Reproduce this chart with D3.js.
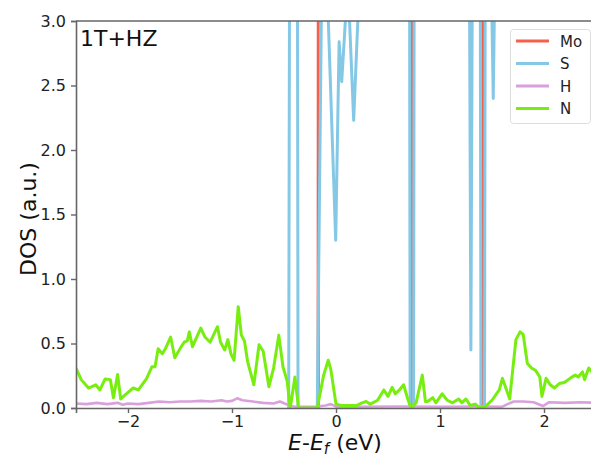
<!DOCTYPE html>
<html>
<head>
<meta charset="utf-8">
<script src="https://cdn.jsdelivr.net/npm/d3@7"></script>
<style>
  html, body { margin: 0; padding: 0; background: #fff; }
  svg { display: block; font-family: "DejaVu Sans", sans-serif; }
</style>
</head>
<body>
<svg id="chart" width="591" height="462"></svg>
<script>
// Projected density of states, 1T+HZ
const seriesNames = ["Mo", "S", "H", "N"];
const seriesColors = ["#f4604c", "#85c8e6", "#d9a0dc", "#78ee10"];

const xTicks = [-2, -1, 0, 1, 2];
const yTicks = [0.0, 0.5, 1.0, 1.5, 2.0, 2.5, 3.0];

// Mo: narrow peaks that run off the top of the window (null breaks the line)
const moE = [-0.176, -0.171, -0.166, null, 0.730, 0.735, 0.740, null, 1.405, 1.410, 1.415];
const moDos = [0, 10, 0, null, 0, 10, 0, null, 0, 10, 0];

// S: mostly above the window, only the dips reach into view
const sE = [-0.455, -0.44, -0.375, -0.365, -0.18, -0.14, -0.11, -0.08, -0.003, 0.030, 0.055, 0.105,
            0.12, 0.17, 0.22, 0.25, 0.703, 0.713, 0.746, 0.756, 1.28, 1.297, 1.314, 1.386, 1.394,
            1.428, 1.436, 1.49, 1.512, 1.53, 2.6];
const sDos = [0, 6, 6, 0, 0, 3.1, 4, 3.15, 1.30, 2.84, 2.53, 3.2,
              3.2, 2.23, 3.2, 5, 6, 0, 0, 6, 4, 0.45, 4, 4, 0,
              0, 4, 3.5, 2.40, 3.5, 6];

// H
const hE = [-2.5, -2.4, -2.3, -2.2, -2.1, -2.05, -2.0, -1.9, -1.8, -1.7, -1.6, -1.5, -1.4, -1.3,
            -1.2, -1.1, -1.05, -1.0, -0.95, -0.9, -0.8, -0.7, -0.6, -0.54, -0.45, -0.4, -0.3,
            -0.2, -0.1, -0.05, 0.0, 0.2, 0.6, 1.0, 1.4, 1.6, 1.65, 1.71, 1.8, 1.9, 1.99, 2.05,
            2.2, 2.35, 2.5];
const hDos = [0.035, 0.03, 0.04, 0.03, 0.04, 0.025, 0.035, 0.03, 0.04, 0.05, 0.045, 0.05, 0.05, 0.055,
              0.05, 0.06, 0.05, 0.055, 0.075, 0.06, 0.05, 0.04, 0.035, 0.05, 0.02, 0.01, 0.01,
              0.01, 0.02, 0.03, 0.01, 0.01, 0.012, 0.01, 0.012, 0.01, 0.03, 0.05, 0.05, 0.045, 0.015, 0.045,
              0.04, 0.045, 0.04];

// N
const nE = [-2.5, -2.45, -2.38, -2.31, -2.27, -2.22, -2.17, -2.14, -2.10, -2.07, -2.03, -1.95,
            -1.90, -1.82, -1.77, -1.74, -1.71, -1.67, -1.64, -1.59, -1.55, -1.50, -1.46, -1.43,
            -1.41, -1.38, -1.35, -1.30, -1.26, -1.21, -1.14, -1.11, -1.07, -1.04, -1.01, -0.98,
            -0.94, -0.91, -0.88, -0.85, -0.79, -0.74, -0.70, -0.645, -0.60, -0.55, -0.51, -0.47,
            -0.44, -0.395, -0.36, -0.18, -0.12, -0.075, -0.05, 0.0, 0.05, 0.2, 0.25, 0.29, 0.33,
            0.40, 0.46, 0.50, 0.54, 0.57, 0.61, 0.65, 0.69, 0.72, 0.77, 0.83, 0.86, 0.88, 0.93,
            0.96, 1.02, 1.07, 1.12, 1.18, 1.21, 1.25, 1.29, 1.34, 1.38, 1.44, 1.50, 1.57, 1.60,
            1.64, 1.67, 1.70, 1.73, 1.77, 1.80, 1.84, 1.88, 1.92, 1.96, 1.98, 2.02, 2.06, 2.10,
            2.15, 2.20, 2.25, 2.30, 2.33, 2.37, 2.39, 2.43, 2.47, 2.5];
const nDos = [0.31, 0.22, 0.155, 0.18, 0.14, 0.225, 0.22, 0.08, 0.26, 0.07, 0.10, 0.155,
              0.14, 0.23, 0.32, 0.32, 0.46, 0.42, 0.46, 0.55, 0.39, 0.46, 0.51, 0.52,
              0.59, 0.475, 0.53, 0.62, 0.55, 0.51, 0.63, 0.51, 0.45, 0.53, 0.42, 0.37,
              0.785, 0.565, 0.52, 0.36, 0.18, 0.49, 0.44, 0.165, 0.31, 0.565, 0.32, 0.21,
              0.0, 0.24, 0.0, 0.0, 0.25, 0.37, 0.30, 0.03, 0.02, 0.02, 0.04, 0.05, 0.03,
              0.06, 0.14, 0.09, 0.16, 0.11, 0.14, 0.18, 0.07, 0.0, 0.04, 0.255, 0.05, 0.05, 0.08,
              0.04, 0.11, 0.06, 0.04, 0.07, 0.04, 0.07, 0.02, 0.03, 0.0, 0.015, 0.06, 0.14, 0.23,
              0.14, 0.07, 0.30, 0.53, 0.59, 0.57, 0.345, 0.31, 0.29, 0.24, 0.09, 0.23, 0.18, 0.155,
              0.19, 0.20, 0.23, 0.255, 0.24, 0.28, 0.22, 0.31, 0.27, 0.30];

const energies = [moE, sE, hE, nE];
const values = [moDos, sDos, hDos, nDos];
const widths = [2.2, 3, 2.6, 3];

const svg = d3.select("#chart");
const x = d3.scaleLinear().domain([-2.5, 2.5]).range([76, 596]);
const y = d3.scaleLinear().domain([0, 3]).range([408, 21]);

svg.append("defs").append("clipPath").attr("id", "plotClip")
  .append("rect").attr("x", 76).attr("y", 21).attr("width", 520).attr("height", 387);

const plot = svg.append("g").attr("clip-path", "url(#plotClip)");

const line = d3.line()
  .defined(d => d[0] !== null && d[1] !== null)
  .x(d => x(d[0]))
  .y(d => y(d[1]));

seriesNames.forEach((name, i) => {
  const pts = energies[i].map((e, j) => [e, values[i][j]]);
  plot.append("path")
    .datum(pts)
    .attr("fill", "none")
    .attr("stroke", seriesColors[i])
    .attr("stroke-width", widths[i])
    .attr("stroke-linejoin", "round")
    .attr("d", line);
});

// Axes
const axisColor = "#666";
const xAxis = svg.append("g").attr("transform", "translate(0,408)")
  .call(d3.axisBottom(x).tickValues(xTicks).tickSize(5).tickPadding(3)
    .tickFormat(d => d < 0 ? "\u2212" + Math.abs(d) : String(d)));
const yAxis = svg.append("g").attr("transform", "translate(76,0)")
  .call(d3.axisLeft(y).tickValues(yTicks).tickSize(5).tickPadding(5)
    .tickFormat(d3.format(".1f")));

[xAxis, yAxis].forEach(g => {
  g.select(".domain").attr("stroke", axisColor).attr("stroke-width", 1.6);
  g.selectAll(".tick line").attr("stroke", axisColor).attr("stroke-width", 1.4);
  g.selectAll(".tick text").attr("fill", "#222").style("font-size", "16px")
    .style("font-family", "DejaVu Sans, sans-serif");
});

// top spine
svg.append("line").attr("x1", 76).attr("x2", 596).attr("y1", 21).attr("y2", 21)
  .attr("stroke", axisColor).attr("stroke-width", 1.6);

// Panel tag
svg.append("text").attr("x", 80).attr("y", 46).attr("fill", "#111")
  .style("font-size", "22px").text("1T+HZ");

// Axis titles
svg.append("text")
  .attr("transform", "translate(36,219) rotate(-90)")
  .attr("text-anchor", "middle").attr("fill", "#111")
  .style("font-size", "22px").text("DOS (a.u.)");

const xl = svg.append("text").attr("x", 335).attr("y", 450)
  .attr("text-anchor", "middle").attr("fill", "#111").style("font-size", "22px");
xl.append("tspan").style("font-style", "italic").text("E");
xl.append("tspan").text("-");
xl.append("tspan").style("font-style", "italic").text("E");
xl.append("tspan").style("font-style", "italic").style("font-size", "15px").attr("dy", 4).text("f");
xl.append("tspan").attr("dy", -4).text(" (eV)");

// Legend
const lg = svg.append("g");
lg.append("rect").attr("x", 510.5).attr("y", 29.5).attr("width", 80).attr("height", 94)
  .attr("rx", 3).attr("fill", "#fff").attr("stroke", "#ddd").attr("stroke-width", 1);
seriesNames.forEach((name, i) => {
  const yy = 41 + i * 22.5;
  lg.append("line").attr("x1", 516).attr("x2", 549).attr("y1", yy).attr("y2", yy)
    .attr("stroke", seriesColors[i]).attr("stroke-width", 3);
  lg.append("text").attr("x", 560).attr("y", yy + 5.5).attr("fill", "#222")
    .style("font-size", "15px").text(name);
});
</script>
</body>
</html>
